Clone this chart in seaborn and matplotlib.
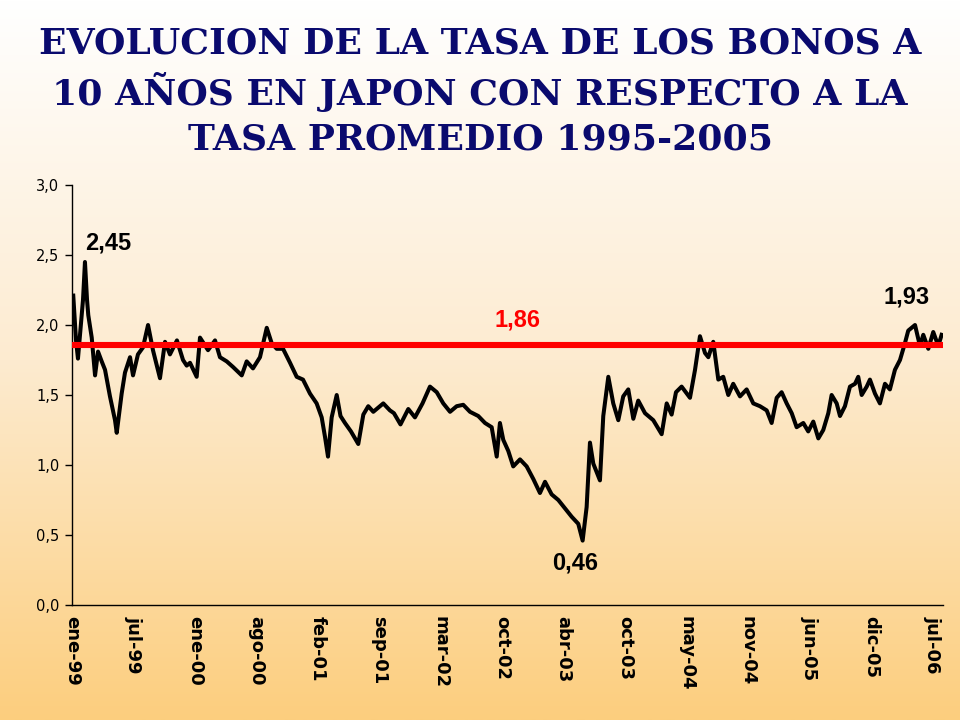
import numpy as np
import pandas as pd
import matplotlib
matplotlib.use("Agg")
import matplotlib.pyplot as plt
import seaborn as sns
from matplotlib.colors import LinearSegmentedColormap

# ---------------- data ----------------
anios = [1999.011, 1999.035, 1999.052, 1999.070, 1999.096, 1999.113, 1999.131, 1999.142,
         1999.172, 1999.201, 1999.227, 1999.259, 1999.288, 1999.331, 1999.375, 1999.390,
         1999.410, 1999.433, 1999.462, 1999.506, 1999.532, 1999.575, 1999.619, 1999.663,
         1999.706, 1999.767, 1999.811, 1999.854, 1999.915, 1999.968, 2000.000, 2000.029,
         2000.087, 2000.116, 2000.186, 2000.247, 2000.290, 2000.349, 2000.404, 2000.480,
         2000.523, 2000.578, 2000.639, 2000.698, 2000.741, 2000.785, 2000.840, 2000.901,
         2000.959, 2001.014, 2001.075, 2001.133, 2001.177, 2001.206, 2001.232, 2001.264,
         2001.308, 2001.341, 2001.380, 2001.432, 2001.496, 2001.540, 2001.583, 2001.627,
         2001.670, 2001.714, 2001.772, 2001.807, 2001.864, 2001.932, 2001.990, 2002.056,
         2002.121, 2002.180, 2002.237, 2002.296, 2002.354, 2002.411, 2002.470, 2002.542,
         2002.601, 2002.659, 2002.703, 2002.731, 2002.760, 2002.804, 2002.847, 2002.906,
         2002.964, 2003.022, 2003.080, 2003.124, 2003.182, 2003.240, 2003.298, 2003.357,
         2003.414, 2003.452, 2003.487, 2003.516, 2003.545, 2003.603, 2003.632, 2003.676,
         2003.719, 2003.763, 2003.806, 2003.850, 2003.894, 2003.937, 2003.996, 2004.068,
         2004.141, 2004.185, 2004.228, 2004.266, 2004.315, 2004.388, 2004.432, 2004.475,
         2004.519, 2004.548, 2004.591, 2004.635, 2004.678, 2004.722, 2004.765, 2004.824,
         2004.882, 2004.940, 2004.998, 2005.057, 2005.100, 2005.144, 2005.187, 2005.231,
         2005.275, 2005.318, 2005.376, 2005.419, 2005.463, 2005.507, 2005.550, 2005.594,
         2005.623, 2005.667, 2005.696, 2005.739, 2005.783, 2005.827, 2005.855, 2005.885,
         2005.929, 2005.957, 2006.001, 2006.044, 2006.088, 2006.131, 2006.175, 2006.219,
         2006.262, 2006.291, 2006.350, 2006.393, 2006.422, 2006.466, 2006.509, 2006.553,
         2006.582]

tasas = [2.21, 1.89, 1.76, 1.93, 2.18, 2.45, 2.18, 2.07,
         1.91, 1.64, 1.81, 1.74, 1.68, 1.49, 1.32, 1.23,
         1.36, 1.51, 1.66, 1.77, 1.64, 1.79, 1.84, 2.00,
         1.82, 1.62, 1.88, 1.79, 1.89, 1.75, 1.71, 1.73,
         1.63, 1.91, 1.82, 1.89, 1.77, 1.74, 1.70, 1.64,
         1.74, 1.69, 1.77, 1.98, 1.87, 1.83, 1.83, 1.73,
         1.63, 1.61, 1.51, 1.44, 1.34, 1.20, 1.06, 1.34,
         1.50, 1.35, 1.30, 1.24, 1.15, 1.36, 1.42, 1.38,
         1.41, 1.44, 1.39, 1.37, 1.29, 1.40, 1.34, 1.44,
         1.56, 1.52, 1.44, 1.38, 1.42, 1.43, 1.38, 1.35,
         1.30, 1.27, 1.06, 1.30, 1.18, 1.10, 0.99, 1.04,
         0.99, 0.90, 0.80, 0.88, 0.79, 0.75, 0.69, 0.63,
         0.58, 0.46, 0.70, 1.16, 1.01, 0.89, 1.35, 1.63,
         1.44, 1.32, 1.49, 1.54, 1.33, 1.46, 1.37, 1.32,
         1.22, 1.44, 1.36, 1.52, 1.56, 1.48, 1.68, 1.92,
         1.80, 1.77, 1.88, 1.61, 1.63, 1.50, 1.58, 1.49,
         1.54, 1.44, 1.42, 1.39, 1.30, 1.48, 1.52, 1.44,
         1.37, 1.27, 1.30, 1.24, 1.31, 1.19, 1.25, 1.37,
         1.50, 1.44, 1.35, 1.42, 1.56, 1.58, 1.63, 1.50,
         1.56, 1.61, 1.51, 1.44, 1.58, 1.54, 1.68, 1.75,
         1.87, 1.96, 2.00, 1.85, 1.93, 1.83, 1.95, 1.85,
         1.93]

promedio = 1.86
etiquetas_x = ["ene-99", "jul-99", "ene-00", "ago-00", "feb-01", "sep-01", "mar-02",
               "oct-02", "abr-03", "oct-03", "may-04", "nov-04", "jun-05", "dic-05", "jul-06"]
ticks_y = [0.0, 0.5, 1.0, 1.5, 2.0, 2.5, 3.0]
titulo = ["EVOLUCION DE LA TASA DE LOS BONOS A",
          "10 AÑOS EN JAPON CON RESPECTO A LA",
          "TASA PROMEDIO 1995-2005"]

df = pd.DataFrame({"anio": anios, "tasa": tasas})

# ---------------- figure ----------------
fig = plt.figure(figsize=(9.6, 7.2), dpi=100)

# background gradient (white at top -> light orange at bottom)
bg = fig.add_axes([0, 0, 1, 1], zorder=-10)
cmap = LinearSegmentedColormap.from_list("bg", ["#FFFFFF", "#FDEBD0", "#FCCE7E"])
grad = np.linspace(0, 1, 256).reshape(-1, 1)
bg.imshow(grad, aspect="auto", cmap=cmap, extent=[0, 1, 0, 1], origin="upper")
bg.set_axis_off()

ax = fig.add_axes([72 / 960, 1 - 605 / 720, 871 / 960, 420 / 720])
ax.set_facecolor("none")

sns.lineplot(data=df, x="anio", y="tasa", ax=ax, color="black", linewidth=2.9,
             sort=True, estimator=None)
ax.axhline(promedio, color="#FF0000", linewidth=4.4, zorder=3)

ax.set_ylim(0, 3.0)
ax.set_xlim(1999.0, 2006.594)

ax.set_yticks(ticks_y)
ax.set_yticklabels([f"{v:.1f}".replace(".", ",") for v in ticks_y],
                   fontsize=10.5, family="DejaVu Sans", color="black")
xt = np.linspace(1999.0, 2006.5, len(etiquetas_x))
ax.set_xticks(xt)
ax.set_xticklabels(etiquetas_x, rotation=270, fontsize=13, fontweight="bold",
                   family="DejaVu Sans", va="top", ha="center")
ax.tick_params(axis="y", direction="out", length=5, width=1, pad=4)
ax.tick_params(axis="x", length=0, pad=8)

for s in ["top", "right"]:
    ax.spines[s].set_visible(False)
for s in ["left", "bottom"]:
    ax.spines[s].set_color("black")
    ax.spines[s].set_linewidth(1.0)
ax.set_xlabel("")
ax.set_ylabel("")
ax.grid(False)

# annotations
lbl = dict(fontsize=17, fontweight="bold", family="Liberation Sans",
           ha="center", va="center", textcoords="offset pixels")
ax.annotate("2,45", xy=(anios[5], tasas[5]), xytext=(23, 19), color="black", **lbl)
ax.annotate("0,46", xy=(anios[97], tasas[97]), xytext=(-8, -22), color="black", **lbl)
ax.annotate("1,93", xy=(anios[-1], tasas[-1]), xytext=(-35, 38), color="black", **lbl)
ax.annotate("1,86", xy=(2002.88, promedio), xytext=(0, 25), color="#FF0000", **lbl)

# title
for i, linea in enumerate(titulo):
    fig.text(0.5, 1 - (44 + i * 48) / 720, linea, ha="center", va="center",
             fontsize=26, fontweight="bold", family="DejaVu Serif", color="#0A0A6E")

fig.savefig("out.png", dpi=100)
